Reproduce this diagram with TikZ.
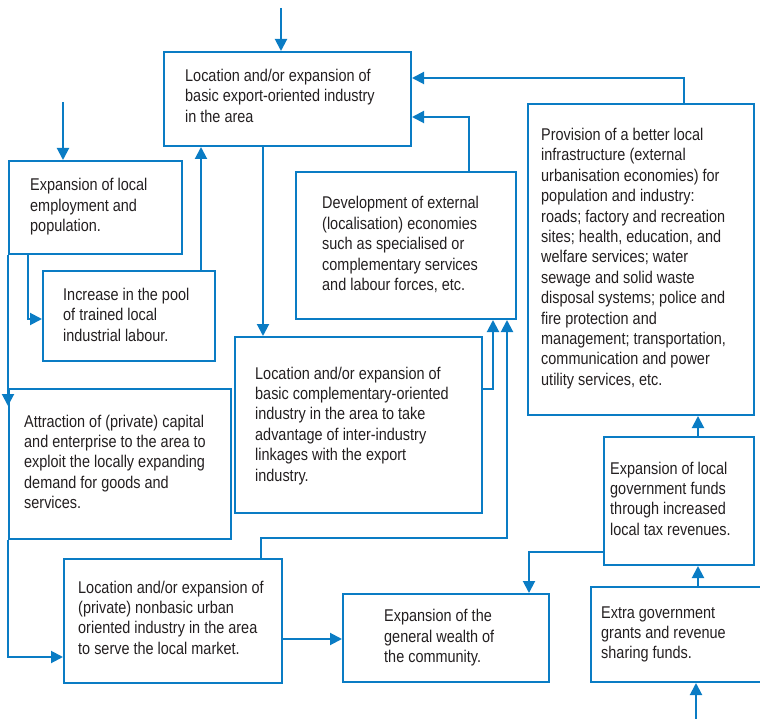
\documentclass[tikz,border=0pt]{standalone}
\usepackage{fontspec}
\setmainfont{Liberation Sans}[FakeStretch=0.85]
\usetikzlibrary{arrows.meta}
\definecolor{lineblue}{HTML}{0A7CC4}
\definecolor{txtgray}{HTML}{231F20}
\newcommand{\tx}[1]{{\fontsize{17}{20.4}\selectfont\color{txtgray}\begin{tabular}[t]{@{}l@{}}#1\end{tabular}}}
\tikzset{
  box/.style={draw=lineblue, line width=2pt, rectangle, inner sep=0pt, anchor=north west},
  txt/.style={anchor=base west, inner sep=0pt},
  arr/.style={draw=lineblue, line width=2pt, -{Triangle[length=12pt,width=12pt]}}
}
\begin{document}
\begin{tikzpicture}[x=1pt,y=-1pt]
\useasboundingbox (0,0) rectangle (760,719);
% boxes
\node[box, minimum width=247pt, minimum height=94pt] (A) at (163,51) {};
\node[box, minimum width=173pt, minimum height=93pt] (B) at (8,160) {};
\node[box, minimum width=172pt, minimum height=90pt] (C) at (42,270) {};
\node[box, minimum width=220pt, minimum height=147pt] (G) at (295,171) {};
\node[box, minimum width=226pt, minimum height=311pt] (P) at (527,103) {};
\node[box, minimum width=222pt, minimum height=150pt] (D) at (8,388) {};
\node[box, minimum width=247pt, minimum height=176pt] (F) at (234,336) {};
\node[box, minimum width=218pt, minimum height=124pt] (E) at (63,558) {};
\node[box, minimum width=206pt, minimum height=88pt] (W) at (342,593) {};
\node[box, minimum width=150pt, minimum height=128pt] (L) at (603,436) {};
\node[box, minimum width=180pt, minimum height=95pt] (X) at (590,586) {};
% texts
\node[txt] (At) at (185,81.6) {\tx{Location and/or expansion of\\ basic export-oriented industry\\ in the area}};
\node[txt] (Bt) at (30,191) {\tx{Expansion of local\\ employment and\\ population.}};
\node[txt] (Ct) at (63,300.5) {\tx{Increase in the pool\\ of trained local\\ industrial labour.}};
\node[txt] (Gt) at (322,209) {\tx{Development of external\\ (localisation) economies\\ such as specialised or\\ complementary services\\ and labour forces, etc.}};
\node[txt] (Pt) at (541,140.6) {\tx{Provision of a better local\\ infrastructure (external\\ urbanisation economies) for\\ population and industry:\\ roads; factory and recreation\\ sites; health, education, and\\ welfare services; water\\ sewage and solid waste\\ disposal systems; police and\\ fire protection and\\ management; transportation,\\ communication and power\\ utility services, etc.}};
\node[txt] (Dt) at (24,427) {\tx{Attraction of (private) capital\\ and enterprise to the area to\\ exploit the locally expanding\\ demand for goods and\\ services.}};
\node[txt] (Ft) at (255,379) {\tx{Location and/or expansion of\\ basic complementary-oriented\\ industry in the area to take\\ advantage of inter-industry\\ linkages with the export\\ industry.}};
\node[txt] (Et) at (78,593) {\tx{Location and/or expansion of\\ (private) nonbasic urban\\ oriented industry in the area\\ to serve the local market.}};
\node[txt] (Wt) at (384,621.6) {\tx{Expansion of the\\ general wealth of\\ the community.}};
\node[txt] (Lt) at (610,474) {\tx{Expansion of local\\ government funds\\ through increased\\ local tax revenues.}};
\node[txt] (Xt) at (601,618) {\tx{Extra government\\ grants and revenue\\ sharing funds.}};
% free ends
\coordinate (inA) at (281,8);
\coordinate (inB) at (63,102);
\coordinate (inX) at (696,719);
\coordinate (dIn) at (8,406);
% connectors
\draw[arr] (inA) -- (inA |- A.north);
\draw[arr] (inB) -- (inB |- B.north);
\draw[arr] ([xshift=20pt]B.south west) |- ([yshift=-3pt]C.west);
\draw[arr] ([xshift=-15pt]C.north east) -- ([xshift=-15pt]C.north east |- A.south);
\draw[arr] (B.south west) -- (dIn);
\draw[arr] (D.south west) |- ([yshift=-36pt]E.west);
\draw[arr] ([xshift=100pt]A.south west) -- ([xshift=100pt]A.south west |- F.north);
\draw[arr] ([xshift=-48pt]G.north east) |- ([yshift=-18pt]A.east);
\draw[arr] ([xshift=-71pt]P.north east) |- ([yshift=21pt]A.east);
\draw[arr] ([yshift=36pt]F.east) -| ([xshift=-24pt]G.south east);
\draw[arr] ([xshift=-22pt]E.north east) -- ++(0,-20) -| ([xshift=-10pt]G.south east);
\draw[arr] ([xshift=-57pt]L.north east) -- ([xshift=-57pt]L.north east |- P.south);
\draw[arr] ([xshift=-57pt]L.south east |- X.north) -- ([xshift=-57pt]L.south east);
\draw[arr] (inX) -- (inX |- X.south);
\draw[arr] ([yshift=-51pt]L.west) -| ([xshift=-21pt]W.north east);
\draw[arr] ([yshift=-18pt]E.east) -- ([yshift=-18pt]E.east -| W.west);
\end{tikzpicture}
\end{document}
